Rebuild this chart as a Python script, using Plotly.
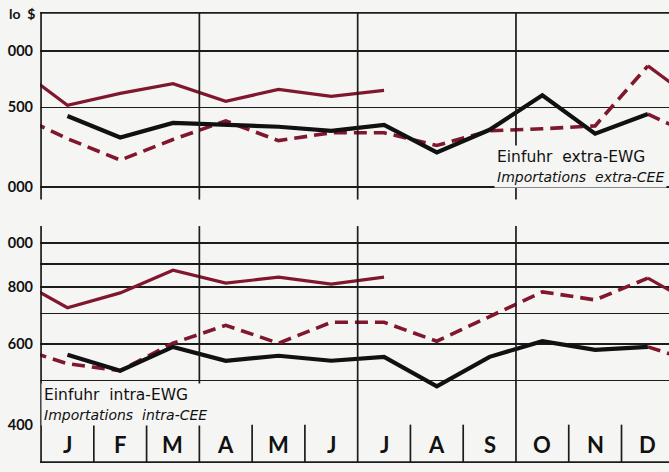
import math
import plotly.graph_objects as go

# ---------------- data (Mio $) ----------------
months = ["J", "F", "M", "A", "M", "J", "J", "A", "S", "O", "N", "D"]

# Einfuhr extra-EWG / Importations extra-CEE
extra_black = [1436, 1286, 1386, 1372, 1359, 1331, 1372, 1192, 1338, 1596, 1312, 1450]
extra_dash = [1279, 1146, 1273, 1400, 1266, 1318, 1318, 1235, 1331, 1345, 1365, 1855]
extra_red = [1517, 1612, 1694, 1548, 1644, 1587, 1636]

# Einfuhr intra-EWG / Importations intra-CEE
intra_black = [569, 525, 592, 552, 566, 552, 563, 485, 563, 609, 583, 592]
intra_dash = [544, 525, 603, 660, 603, 670, 670, 609, 690, 781, 750, 837]
intra_red = [721, 777, 871, 816, 841, 812, 841]

extra_ticks = [1000, 1500, 2000]
extra_ticktext = ["000", "500", "000"]
intra_ticks = [400, 500, 600, 700, 800, 900, 1000]
intra_ticktext = ["400", "", "600", "", "800", "", "000"]

unit_label = "lo\u00a0\u00a0$"
legend_extra = ["Einfuhr\u00a0\u00a0extra-EWG", "Importations\u00a0\u00a0extra-CEE"]
legend_intra = ["Einfuhr\u00a0\u00a0intra-EWG", "Importations\u00a0\u00a0intra-CEE"]

# ---------------- styling ----------------
W, H = 669, 472
BG = "#f5f5f4"
RED = "#80172d"
INK = "#1c1c1c"
FONT = "Lato"


def py(p):
    """pixel row -> paper fraction"""
    return 1 - p / H


idx = list(range(1, 13))
fig = go.Figure()


def add_panel(black, dash, red, yax):
    # dashed year: starts from previous (black) December, wraps to next year
    xd = [0] + idx + [None, 12, 13]
    yd = [black[-1]] + dash + [None, black[-1], dash[0]]
    fig.add_trace(go.Scatter(x=xd, y=yd, mode="lines", yaxis=yax,
                             line=dict(color=RED, width=3.6, dash="13px,7px"),
                             connectgaps=False, hoverinfo="skip"))
    # red solid (partial) year: starts from previous (dashed) December
    nr = len(red)
    xr = [0] + idx[:nr] + [None, 12, 13]
    yr = [dash[-1]] + red + [None, dash[-1], red[0]]
    fig.add_trace(go.Scatter(x=xr, y=yr, mode="lines", yaxis=yax,
                             line=dict(color=RED, width=3.2),
                             connectgaps=False, hoverinfo="skip"))
    # black year
    fig.add_trace(go.Scatter(x=idx, y=black, mode="lines", yaxis=yax,
                             line=dict(color="#111111", width=4.2),
                             hoverinfo="skip"))


add_panel(extra_black, extra_dash, extra_red, "y")
add_panel(intra_black, intra_dash, intra_red, "y2")

top_dom = [py(203), py(13)]
bot_dom = [py(432), py(230)]

# ---------------- shapes: frame lines ----------------
shapes = []
LW = 1.7
shapes.append(dict(type="line", xref="paper", yref="paper", x0=0, x1=1,
                   y0=py(13), y1=py(13), line=dict(color=INK, width=LW)))
shapes.append(dict(type="line", xref="paper", yref="paper", x0=0, x1=1,
                   y0=py(470), y1=py(470), line=dict(color=INK, width=LW)))
for k in range(13):
    b = k + 0.5
    if k % 3 == 0:
        shapes.append(dict(type="line", xref="x", yref="paper", x0=b, x1=b,
                           y0=py(203), y1=py(13), line=dict(color=INK, width=LW)))
        shapes.append(dict(type="line", xref="x", yref="paper", x0=b, x1=b,
                           y0=py(470), y1=py(230), line=dict(color=INK, width=LW)))
    else:
        shapes.append(dict(type="line", xref="x", yref="paper", x0=b, x1=b,
                           y0=py(470), y1=py(432), line=dict(color=INK, width=LW)))

# ---------------- annotations ----------------
ann = []
for i, m in enumerate(months):
    ann.append(dict(x=i + 1, y=py(452), xref="x", yref="paper", text=m,
                    showarrow=False, xanchor="center", yanchor="middle",
                    font=dict(family=FONT, size=22, color="#111111", weight="bold")))

ann.append(dict(x=-33 / (W - 40), y=py(14), xref="paper", yref="paper",
                text=unit_label, showarrow=False, xanchor="left", yanchor="middle",
                font=dict(family=FONT, size=14, color="#111111", weight="bold")))


def legend_text(lines):
    return (lines[0] + "<br><span style='font-size:14px'><i>" + lines[1]
            + "</i></span>")


ann.append(dict(x=(494 - 40) / (W - 40), y=py(169), xref="paper", yref="paper",
                text=legend_text(legend_extra),
                showarrow=False, xanchor="left", yanchor="middle", align="left",
                bgcolor=BG, borderpad=2,
                font=dict(family="DejaVu Sans", size=15.5, color="#111111")))
ann.append(dict(x=(41 - 40) / (W - 40), y=py(411), xref="paper", yref="paper",
                text=legend_text(legend_intra),
                showarrow=False, xanchor="left", yanchor="middle", align="left",
                bgcolor=BG, borderpad=2,
                font=dict(family="DejaVu Sans", size=15.5, color="#111111")))

axis_common = dict(showline=False, zeroline=False, ticks="",
                   gridcolor=INK, gridwidth=LW,
                   tickfont=dict(family=FONT, size=14.5, color="#111111", weight="bold"))

fig.update_layout(
    width=W, height=H,
    margin=dict(l=40, r=0, t=0, b=0, pad=0),
    paper_bgcolor=BG, plot_bgcolor=BG,
    showlegend=False,
    xaxis=dict(range=[0.48, 12.40], showgrid=False, showticklabels=False,
               zeroline=False, showline=False, fixedrange=True),
    yaxis=dict(type="log", domain=top_dom,
               range=[3 - 13 * 0.0021814, math.log10(2000) + 39 * 0.0021814],
               tickmode="array", tickvals=extra_ticks, ticktext=extra_ticktext,
               ticklabelstandoff=6, **axis_common),
    yaxis2=dict(type="log", domain=bot_dom,
                range=[math.log10(400), 3 + 17 * 0.002151],
                tickmode="array", tickvals=intra_ticks, ticktext=intra_ticktext,
                ticklabelstandoff=6, **axis_common),
    shapes=shapes,
    annotations=ann,
)

fig.write_html("out.html",
               config={"displayModeBar": False, "staticPlot": True},
               post_script="document.body.style.margin='0';"
                           "document.body.style.overflow='hidden';")
